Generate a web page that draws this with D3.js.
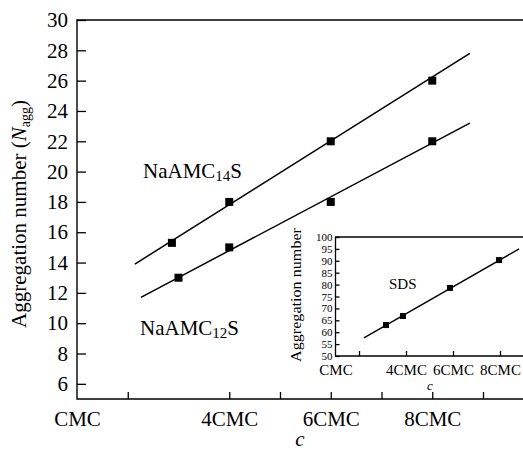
<!DOCTYPE html>
<html>
<head>
<meta charset="utf-8">
<script src="https://cdn.jsdelivr.net/npm/d3@7"></script>
<style>
  body { margin: 0; background: #fff; }
  svg { display: block; font-family: "Liberation Serif", "Times New Roman", serif; }
  .axis path { display: none; }
  .axis line { stroke: #000; stroke-width: 1.3; }
  .axis text { fill: #000; font-family: "Liberation Serif", "Times New Roman", serif; }
</style>
</head>
<body>
<svg width="523" height="452"></svg>
<script>
// main chart data (c in multiples of CMC)
const na14X = [2.87, 4, 6, 8];
const na14Y = [15.3, 18, 22, 26];
const na12X = [3, 4, 6, 8];
const na12Y = [13, 15, 18, 22];
// fitted lines, end points
const na14Fit = [[2.14, 13.9], [8.74, 27.8]];
const na12Fit = [[2.26, 11.7], [8.74, 23.2]];

const mainXTicks = [2, 4, 5, 6, 7, 8, 9];
const mainXLabels = [1, 4, 6, 8];
const mainYTicks = [6, 8, 10, 12, 14, 16, 18, 20, 22, 24, 26, 28, 30];

// inset (SDS)
const sdsX = [3.15, 3.87, 5.87, 7.96];
const sdsY = [63, 66.8, 78.6, 90.3];
const sdsFit = [[2.21, 57.6], [8.81, 95]];
const insetXTicks = [2, 4, 6, 8];
const insetXLabels = [1, 4, 6, 8];
const insetYTicks = [50, 55, 60, 65, 70, 75, 80, 85, 90, 95, 100];

const cmcLabel = d => d === 1 ? "CMC" : d + "CMC";

const svg = d3.select("svg");

// ---------- main panel ----------
const x = d3.scaleLinear().domain([1, 10]).range([77, 533.75]);
const y = d3.scaleLinear().domain([5, 30]).range([399, 20]);

svg.append("g")
    .attr("class", "axis")
    .attr("transform", `translate(${x(1)},0)`)
    .call(d3.axisLeft(y).tickValues(mainYTicks).tickSize(-9).tickPadding(9))
    .selectAll("text")
        .style("font-size", "21px");

svg.append("g")
    .attr("class", "axis")
    .attr("transform", `translate(0,${y(5)})`)
    .call(d3.axisBottom(x).tickValues(mainXTicks).tickSize(-7).tickFormat(""));

svg.append("g")
    .attr("class", "axis")
    .attr("transform", `translate(0,${y(5)})`)
    .call(d3.axisBottom(x).tickValues(mainXLabels).tickSize(0).tickPadding(12).tickFormat(cmcLabel))
    .selectAll("text")
        .style("font-size", "21px");

// frame (left, top, bottom)
svg.append("path")
    .attr("d", `M${x(10)},${y(30)}H${x(1)}V${y(5)}H${x(10)}`)
    .attr("fill", "none")
    .attr("stroke", "#000")
    .attr("stroke-width", 1.4);

const line = d3.line().x(d => x(d[0])).y(d => y(d[1]));

[na14Fit, na12Fit].forEach(f => {
    svg.append("path")
        .attr("d", line(f))
        .attr("fill", "none")
        .attr("stroke", "#000")
        .attr("stroke-width", 1.5);
});

[[na14X, na14Y], [na12X, na12Y]].forEach(([xs, ys]) => {
    svg.append("g")
        .selectAll("rect")
        .data(xs)
        .enter()
        .append("rect")
        .attr("x", (d, i) => x(d) - 4)
        .attr("y", (d, i) => y(ys[i]) - 4)
        .attr("width", 8)
        .attr("height", 8)
        .attr("fill", "#000");
});

function subLabel(px, py, main, sub, tail, size, subSize) {
    const t = svg.append("text")
        .attr("x", px)
        .attr("y", py)
        .style("font-size", size + "px");
    t.append("tspan").text(main);
    t.append("tspan").attr("dy", 3).style("font-size", subSize + "px").text(sub);
    t.append("tspan").attr("dy", -3).text(tail);
}

subLabel(143, 178, "NaAMC", "14", "S", 21, 15);
subLabel(140, 335, "NaAMC", "12", "S", 21, 15);

// y axis title
const yt = svg.append("text")
    .attr("transform", "translate(26,214) rotate(-90)")
    .attr("text-anchor", "middle")
    .style("font-size", "21px");
yt.append("tspan").text("Aggregation number  (");
yt.append("tspan").style("font-style", "italic").text("N");
yt.append("tspan").attr("dy", 4).style("font-size", "14px").text("agg");
yt.append("tspan").attr("dy", -4).text(")");

svg.append("text")
    .attr("x", 300)
    .attr("y", 446)
    .attr("text-anchor", "middle")
    .style("font-size", "21px")
    .style("font-style", "italic")
    .text("c");

// ---------- inset ----------
const ix = d3.scaleLinear().domain([1, 10]).range([335.5, 547]);
const iy = d3.scaleLinear().domain([50, 100]).range([356, 237]);

svg.append("rect")
    .attr("x", ix(1))
    .attr("y", iy(100))
    .attr("width", 523 - ix(1))
    .attr("height", iy(50) - iy(100))
    .attr("fill", "#fff");

svg.append("g")
    .attr("class", "axis")
    .attr("transform", `translate(${ix(1)},0)`)
    .call(d3.axisLeft(iy).tickValues(insetYTicks).tickSize(-4).tickPadding(3))
    .selectAll("text")
        .style("font-size", "11px");

svg.append("g")
    .attr("class", "axis")
    .attr("transform", `translate(0,${iy(50)})`)
    .call(d3.axisBottom(ix).tickValues(insetXTicks).tickSize(-5).tickFormat(""));

svg.append("g")
    .attr("class", "axis")
    .attr("transform", `translate(0,${iy(50)})`)
    .call(d3.axisBottom(ix).tickValues(insetXLabels).tickSize(0).tickPadding(8).tickFormat(cmcLabel))
    .selectAll("text")
        .style("font-size", "15px");

svg.append("path")
    .attr("d", `M${ix(10)},${iy(100)}H${ix(1)}V${iy(50)}H${ix(10)}`)
    .attr("fill", "none")
    .attr("stroke", "#000")
    .attr("stroke-width", 1.3);

const iline = d3.line().x(d => ix(d[0])).y(d => iy(d[1]));

svg.append("path")
    .attr("d", iline(sdsFit))
    .attr("fill", "none")
    .attr("stroke", "#000")
    .attr("stroke-width", 1.4);

svg.append("g")
    .selectAll("rect")
    .data(sdsX)
    .enter()
    .append("rect")
    .attr("x", d => ix(d) - 3)
    .attr("y", (d, i) => iy(sdsY[i]) - 3)
    .attr("width", 6)
    .attr("height", 6)
    .attr("fill", "#000");

svg.append("text")
    .attr("x", 389)
    .attr("y", 289)
    .style("font-size", "15px")
    .text("SDS");

svg.append("text")
    .attr("transform", "translate(301,295) rotate(-90)")
    .attr("text-anchor", "middle")
    .attr("textLength", 134)
    .attr("lengthAdjust", "spacingAndGlyphs")
    .style("font-size", "15px")
    .text("Aggregation number");

svg.append("text")
    .attr("x", 430)
    .attr("y", 390)
    .attr("text-anchor", "middle")
    .style("font-size", "13px")
    .style("font-style", "italic")
    .text("c");
</script>
</body>
</html>
